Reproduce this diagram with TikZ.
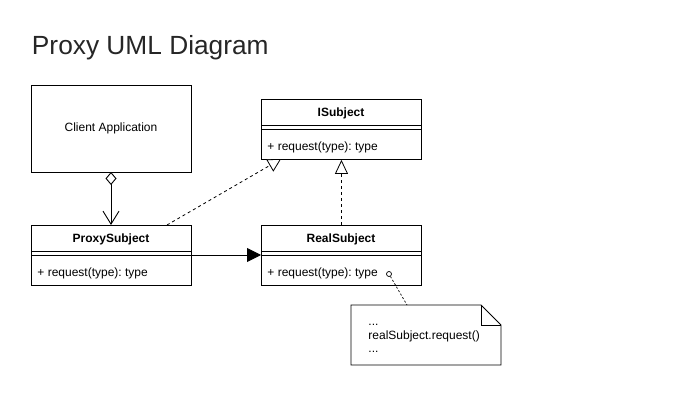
\documentclass[tikz,border=0pt]{standalone}
\usepackage{fontspec}
\setmainfont{Liberation Sans}
\usetikzlibrary{arrows.meta}
\frenchspacing
\begin{document}
\begin{tikzpicture}[x=1pt,y=-1pt,line width=0.9pt,
  box/.style={draw,anchor=north west,minimum width=160pt,inner sep=0pt},
  hdr/.style={font=\fontsize{12}{14}\selectfont\bfseries},
  txt/.style={font=\fontsize{12}{14}\selectfont,anchor=west,inner sep=0pt},
  ntxt/.style={font=\fontsize{12}{14}\selectfont,anchor=base west,inner sep=0pt},
  dsh/.style={dash pattern=on 3pt off 3pt,line width=0.8pt}]
\useasboundingbox (0,0) rectangle (677,411);
\node[anchor=base west,inner sep=0pt,text=black!85,font=\fontsize{26.3}{30}\selectfont] (title) at (31.5,55) {Proxy UML Diagram};
% Client
\node[box,minimum height=87pt] (client) at (31,85) {};
\node[font=\fontsize{12}{14}\selectfont] (clientt) at (111,128) {Client Application};
% ISubject
\node[box,minimum height=60pt] (isub) at (261,99) {};
\node[hdr] (isubh) at (341,113) {ISubject};
\draw ([yshift=-26pt]isub.north west) -- ([yshift=-26pt]isub.north east);
\draw ([yshift=-30pt]isub.north west) -- ([yshift=-30pt]isub.north east);
\node[txt] (isubm) at (267,147) {+ request(type): type};
% ProxySubject
\node[box,minimum height=60pt] (proxy) at (31,225) {};
\node[hdr] (proxyh) at (111,239) {ProxySubject};
\draw ([yshift=-26pt]proxy.north west) -- ([yshift=-26pt]proxy.north east);
\draw ([yshift=-30pt]proxy.north west) -- ([yshift=-30pt]proxy.north east);
\node[txt] (proxym) at (37,273) {+ request(type): type};
% RealSubject
\node[box,minimum height=60pt] (real) at (261,225) {};
\node[hdr] (realh) at (341,239) {RealSubject};
\draw ([yshift=-26pt]real.north west) -- ([yshift=-26pt]real.north east);
\draw ([yshift=-30pt]real.north west) -- ([yshift=-30pt]real.north east);
\node[txt] (realm) at (267,273) {+ request(type): type};
% connectors
\coordinate (cb) at (111,172);
\coordinate (pt) at (111,225);
\draw[{Diamond[open,fill=white,length=13pt,width=11pt]}-{Straight Barb[length=13pt,width=16pt]}] (cb) -- (pt);
\coordinate (ps) at (167,225);
\coordinate (it) at (281,159);
\draw[dsh,-{Triangle[open,fill=white,length=13pt,width=14pt]}] (ps) -- (it);
\draw[dsh,-{Triangle[open,fill=white,length=14pt,width=13pt]}] (real.north -| isub.south) -- (isub.south);
\draw[-{Triangle[length=14pt,width=14pt]}] ([yshift=-30pt]proxy.north east) -- ([yshift=-30pt]real.north west);
% note
\coordinate (n1) at (351,305);
\coordinate (n2) at (481,305);
\coordinate (n3) at (501,325);
\coordinate (n4) at (501,365);
\coordinate (n5) at (351,365);
\draw[line width=0.8pt] (n1) -- (n2) -- (n3) -- (n4) -- (n5) -- cycle;
\draw[line width=0.8pt] (n2) -- (481,325) -- (n3);
\node[ntxt] (nt1) at (368,325.5) {...};
\node[ntxt] (nt2) at (368,339.5) {realSubject.request()};
\node[ntxt] (nt3) at (368,352.5) {...};
\node[draw,circle,minimum size=5pt,inner sep=0pt,line width=0.7pt] (oc) at (389,274) {};
\coordinate (nc) at (407,305);
\draw[dsh,line width=0.7pt,dash pattern=on 2pt off 2pt] (oc) -- (nc);
\end{tikzpicture}
\end{document}
